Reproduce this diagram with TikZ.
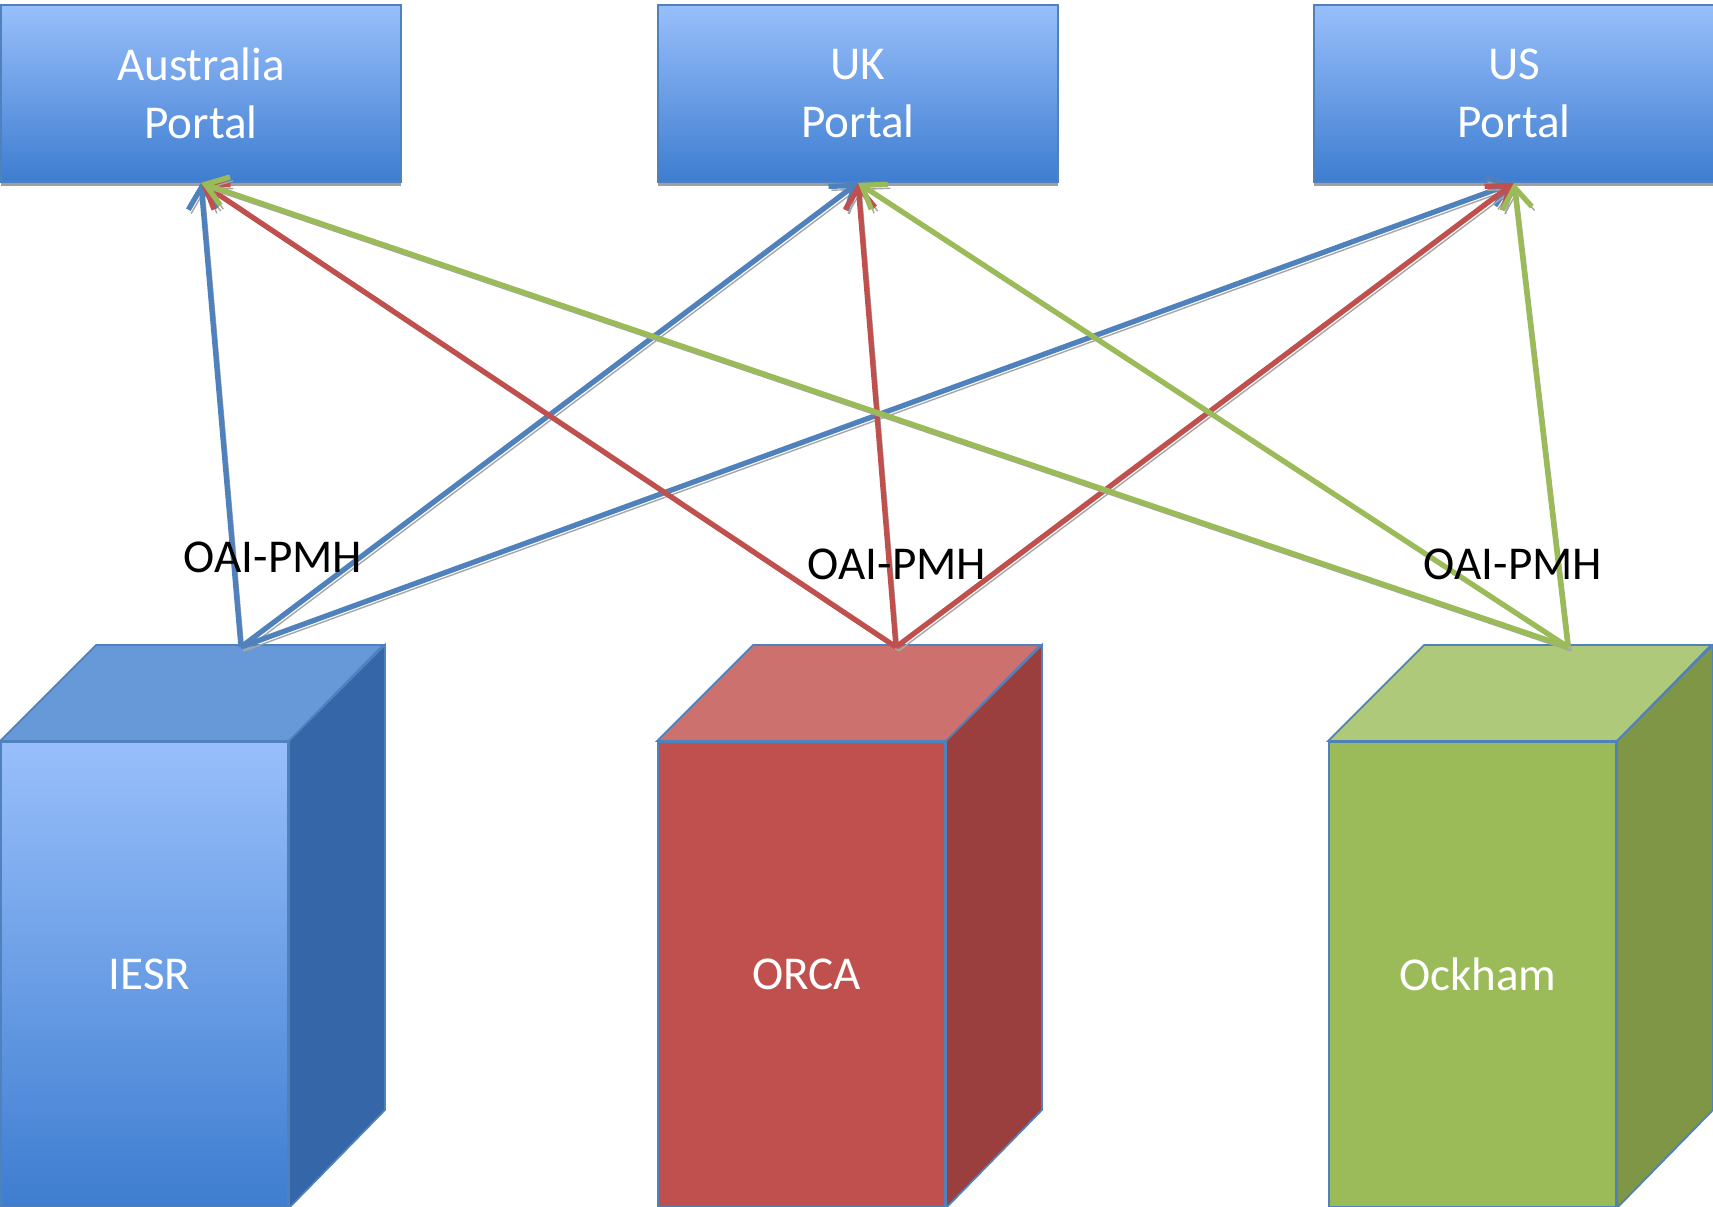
\documentclass[tikz,border=0pt]{standalone}
\usepackage{fontspec}
\setmainfont{Carlito}
\usetikzlibrary{arrows.meta,shadows}

\definecolor{edgeblue}{HTML}{4F81BD}
\definecolor{lightblue}{HTML}{98BFFB}
\definecolor{deepblue}{HTML}{3E7DD0}
\definecolor{blueside}{HTML}{3567A8}
\definecolor{bluetop}{HTML}{6799D9}
\definecolor{orcared}{HTML}{C0504D}
\definecolor{redtop}{HTML}{CD716E}
\definecolor{redside}{HTML}{9A3F3D}
\definecolor{ockgreen}{HTML}{9BBB59}
\definecolor{greentop}{HTML}{AFC97B}
\definecolor{greenside}{HTML}{7E9645}

\tikzset{
  portal/.style={rectangle, draw=edgeblue, line width=0.5pt, top color=lightblue, bottom color=deepblue,
    minimum width=4cm, minimum height=1.77cm, anchor=north west, align=center, text=white,
    font=\fontsize{13.4}{16.6}\selectfont,
    drop shadow={shadow xshift=0pt, shadow yshift=-1.1pt, fill=gray!75, opacity=1}},
  front/.style={rectangle, draw=edgeblue, line width=0.5pt, minimum width=2.87cm, minimum height=4.65cm,
    anchor=north west, text=white, font=\fontsize{13.4}{15.9}\selectfont},
  feed/.style={line width=1.5pt, -{Straight Barb[length=6pt,width=8.5pt]},
    preaction={draw=gray!70, transform canvas={shift={(0.8pt,-1.1pt)}}}},
  proto/.style={font=\fontsize{13.4}{15.9}\selectfont}
}

\begin{document}
\begin{tikzpicture}[x=0.01cm, y=-0.01cm]
\useasboundingbox (0,0) rectangle (1713,1206);

% portals
\node (aus) [portal] at (0,4) {Australia\\Portal};
\node (uk) [portal] at (657,4) {UK\\Portal};
\node (us) [portal] at (1313,4) {US\\Portal};

% IESR
\node (iesr) [front, top color=lightblue, bottom color=deepblue] at (0,741) {\hspace{3pt}IESR};
\filldraw[draw=edgeblue, fill=bluetop, line width=0.5pt] (iesr.north west) -- ++(96,-96) -- ++(287,0) -- (iesr.north east) -- cycle;
\filldraw[draw=edgeblue, fill=blueside, line width=0.5pt] (iesr.north east) -- ++(96,-96) -- ++(0,465) -- (iesr.south east) -- cycle;
\coordinate (iesrout) at (241,647);

% ORCA
\node (orca) [front, fill=orcared] at (657,741) {\hspace{3pt}ORCA};
\filldraw[draw=edgeblue, fill=redtop, line width=0.5pt] (orca.north west) -- ++(96,-96) -- ++(287,0) -- (orca.north east) -- cycle;
\filldraw[draw=edgeblue, fill=redside, line width=0.5pt] (orca.north east) -- ++(96,-96) -- ++(0,465) -- (orca.south east) -- cycle;
\coordinate (orcaout) at (896,647);

% Ockham
\node (ockham) [front, fill=ockgreen] at (1328,741) {\hspace{3pt}Ockham};
\filldraw[draw=edgeblue, fill=greentop, line width=0.5pt] (ockham.north west) -- ++(96,-96) -- ++(287,0) -- (ockham.north east) -- cycle;
\filldraw[draw=edgeblue, fill=greenside, line width=0.5pt] (ockham.north east) -- ++(96,-96) -- ++(0,465) -- (ockham.south east) -- cycle;
\coordinate (ockhamout) at (1568,647);

% harvesting
\draw[feed, edgeblue] (iesrout) -- (aus.south);
\draw[feed, edgeblue] (iesrout) -- (uk.south);
\draw[feed, edgeblue] (iesrout) -- (us.south);
\draw[feed, orcared] (orcaout) -- (aus.south);
\draw[feed, orcared] (orcaout) -- (uk.south);
\draw[feed, orcared] (orcaout) -- (us.south);
\draw[feed, ockgreen] (ockhamout) -- (aus.south);
\draw[feed, ockgreen] (ockhamout) -- (uk.south);
\draw[feed, ockgreen] (ockhamout) -- (us.south);

\node (oai1) [proto] at (273,557) {OAI-PMH};
\node (oai2) [proto] at (897,564) {OAI-PMH};
\node (oai3) [proto] at (1513,564) {OAI-PMH};
\end{tikzpicture}
\end{document}
